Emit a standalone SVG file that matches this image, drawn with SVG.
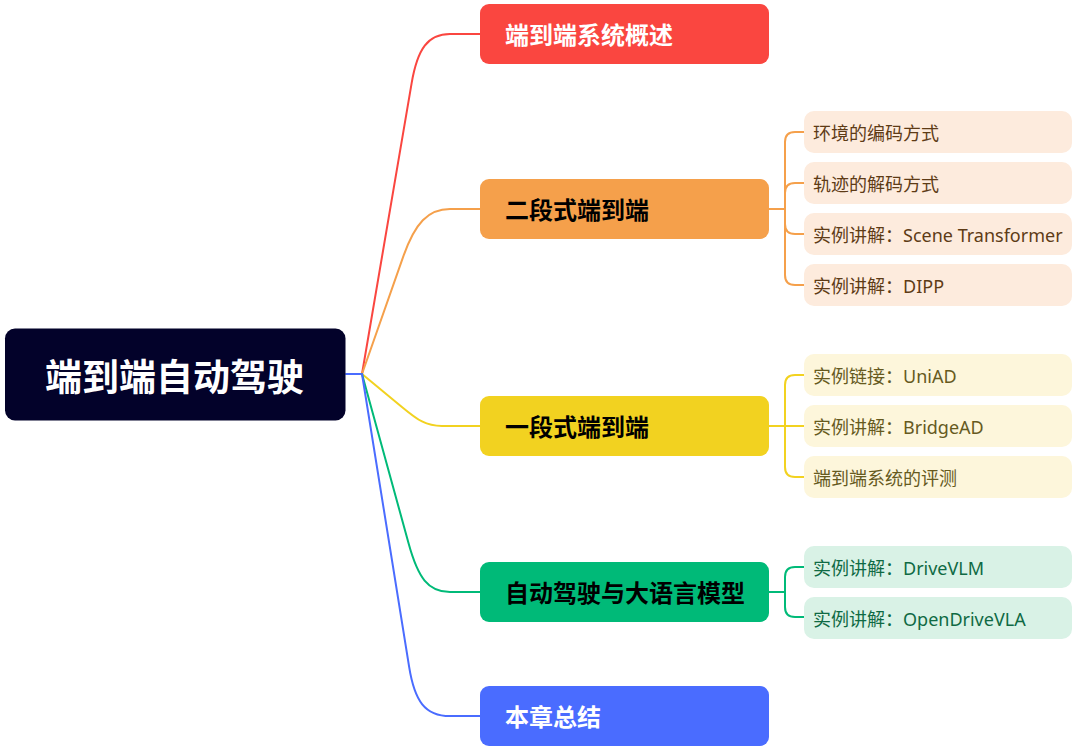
<svg xmlns="http://www.w3.org/2000/svg" width="1080" height="754" viewBox="0 0 1080 754">
<style>
.cn{font-family:"Noto Sans CJK SC","Noto Sans",sans-serif;dominant-baseline:central}
.main{font-size:24px;font-weight:700}
.sub{font-family:"Noto Sans","Noto Sans CJK SC",sans-serif;font-size:18px;dominant-baseline:central}
.ln{fill:none;stroke-width:2;stroke-linecap:round;stroke-linejoin:round}
</style>
<rect width="1080" height="754" fill="#ffffff"/>
<g id="connectors">
<path class="ln" stroke="#4A6CFF" d="M346 374 H362"/>
<path class="ln" stroke="#FA4640" d="M362 374 L411.6 83.3 C417.5 48.5 428 34 450 34 L480 34"/>
<path class="ln" stroke="#F5A04B" d="M362 374 L403.4 256.2 C415 223.2 428 209 450 209 L480 209"/>
<path class="ln" stroke="#F2D220" d="M362 374 L401.9 406.9 C418.1 420.3 426 426 442 426 L480 426"/>
<path class="ln" stroke="#00BA78" d="M362 374 L408.7 543.8 C418 577.5 428 592 450 592 L480 592"/>
<path class="ln" stroke="#4A6CFF" d="M362 374 L409.1 666.6 C414.6 701.2 425 716 450 716 L480 716"/>
<g stroke="#F5A04B" class="ln">
<path d="M769 209 H785"/>
<path d="M785 209 V142 Q785 132 795 132 H804"/>
<path d="M785 209 V193 Q785 183 795 183 H804"/>
<path d="M785 209 V224 Q785 234 795 234 H804"/>
<path d="M785 209 V275 Q785 285 795 285 H804"/>
</g>
<g stroke="#F2D220" class="ln">
<path d="M769 426 H804"/>
<path d="M785 426 V385 Q785 375 795 375 H804"/>
<path d="M785 426 V467 Q785 477 795 477 H804"/>
</g>
<g stroke="#00BA78" class="ln">
<path d="M769 592 H785"/>
<path d="M785 592 V577 Q785 567 795 567 H804"/>
<path d="M785 592 V607 Q785 617 795 617 H804"/>
</g>
</g>
<g id="root">
<rect x="5" y="328.5" width="340.5" height="92" rx="10" fill="#03022A"/>
<text class="cn" x="45" y="374.5" font-size="37" font-weight="700" fill="#ffffff">端到端自动驾驶</text>
</g>
<g id="n1">
<rect x="480" y="4" width="289" height="60" rx="9" fill="#FA4640"/>
<text class="cn main" x="505" y="33.5" fill="#ffffff">端到端系统概述</text>
</g>
<g id="n2">
<rect x="480" y="179" width="289" height="60" rx="9" fill="#F5A04B"/>
<text class="cn main" x="505" y="208.5" fill="#000000">二段式端到端</text>
</g>
<g id="n3">
<rect x="480" y="396" width="289" height="60" rx="9" fill="#F2D220"/>
<text class="cn main" x="505" y="425.5" fill="#000000">一段式端到端</text>
</g>
<g id="n4">
<rect x="480" y="562" width="289" height="60" rx="9" fill="#00BA78"/>
<text class="cn main" x="505" y="591.5" fill="#000000">自动驾驶与大语言模型</text>
</g>
<g id="n5">
<rect x="480" y="686" width="289" height="60" rx="9" fill="#4A6CFF"/>
<text class="cn main" x="505" y="715.5" fill="#ffffff">本章总结</text>
</g>
<g id="n2-1">
<rect x="804" y="111" width="268" height="42" rx="10" fill="#FDEBDD"/>
<text class="sub" x="813" y="133" fill="#5E3B16">环境的编码方式</text>
</g>
<g id="n2-2">
<rect x="804" y="162" width="268" height="42" rx="10" fill="#FDEBDD"/>
<text class="sub" x="813" y="184" fill="#5E3B16">轨迹的解码方式</text>
</g>
<g id="n2-3">
<rect x="804" y="213" width="268" height="42" rx="10" fill="#FDEBDD"/>
<text class="sub" x="813" y="235" fill="#5E3B16">实例讲解：Scene Transformer</text>
</g>
<g id="n2-4">
<rect x="804" y="264" width="268" height="42" rx="10" fill="#FDEBDD"/>
<text class="sub" x="813" y="286" fill="#5E3B16">实例讲解：DIPP</text>
</g>
<g id="n3-1">
<rect x="804" y="354" width="268" height="42" rx="10" fill="#FDF6DB"/>
<text class="sub" x="813" y="376" fill="#665A1E">实例链接：UniAD</text>
</g>
<g id="n3-2">
<rect x="804" y="405" width="268" height="42" rx="10" fill="#FDF6DB"/>
<text class="sub" x="813" y="427" fill="#665A1E">实例讲解：BridgeAD</text>
</g>
<g id="n3-3">
<rect x="804" y="456" width="268" height="42" rx="10" fill="#FDF6DB"/>
<text class="sub" x="813" y="478" fill="#665A1E">端到端系统的评测</text>
</g>
<g id="n4-1">
<rect x="804" y="546" width="268" height="42" rx="10" fill="#D9F2E6"/>
<text class="sub" x="813" y="568" fill="#0F6A44">实例讲解：DriveVLM</text>
</g>
<g id="n4-2">
<rect x="804" y="597" width="268" height="42" rx="10" fill="#D9F2E6"/>
<text class="sub" x="813" y="619" fill="#0F6A44">实例讲解：OpenDriveVLA</text>
</g>
</svg>
